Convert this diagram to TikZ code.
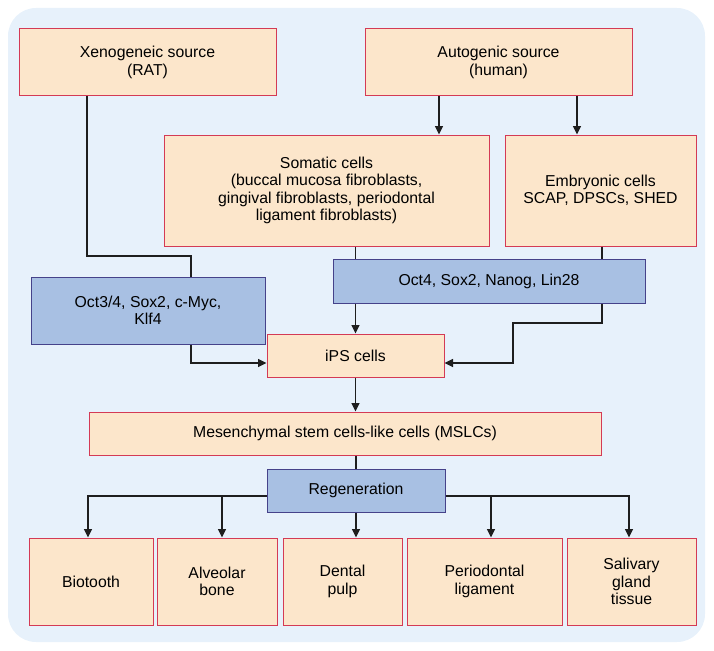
\documentclass[tikz,border=0pt]{standalone}
\usepackage{fontspec}
\setmainfont{Liberation Sans}
\usetikzlibrary{arrows.meta}
\definecolor{peach}{HTML}{FCE6CB}
\definecolor{crimson}{HTML}{D43A55}
\definecolor{steel}{HTML}{A8C0E3}
\definecolor{navy}{HTML}{45428A}
\definecolor{bgblue}{HTML}{E7F1FB}
\definecolor{ink}{HTML}{1E1E1E}
\tikzstyle{cellbox}=[rectangle, draw=crimson, fill=peach, line width=1pt,
align=center, inner sep=0pt, font=\fontsize{15.8}{17.5}\selectfont]
\tikzstyle{factorbox}=[rectangle, draw=navy, fill=steel, line width=1pt,
align=center, inner sep=0pt, font=\fontsize{15.8}{17.5}\selectfont]
\tikzstyle{link}=[draw=ink, line width=1.1pt, >={Triangle[length=8.5pt,width=8pt]}]

\begin{document}
\begin{tikzpicture}[x=1pt,y=-1pt]
\useasboundingbox (0,0) rectangle (714,650);
\fill[bgblue, rounded corners=28pt] (8,8) rectangle (705,642);

\node[cellbox, minimum width=257pt, minimum height=67pt](xeno)at (147.5,62.5){Xenogeneic source\\(RAT)};
\node[cellbox, minimum width=267pt, minimum height=67pt](autog)at (498.5,62.5){Autogenic source\\(human)};

\node[cellbox, minimum width=325pt, minimum height=111pt](somatic)at (326.5,190.5){Somatic cells\\(buccal mucosa fibroblasts,\\gingival fibroblasts, periodontal\\ligament fibroblasts)};
\node[cellbox, minimum width=191pt, minimum height=111pt](embryo)at (600.5,190.5){Embryonic cells\\SCAP, DPSCs, SHED};

\node[factorbox, minimum width=234pt, minimum height=67pt](octklf)at (148,310.5){Oct3/4, Sox2, c-Myc,\\Klf4};
\node[factorbox, minimum width=312pt, minimum height=44pt](octlin)at (489,281){Oct4, Sox2, Nanog, Lin28};

\node[cellbox, minimum width=177pt, minimum height=43pt](ips)at (355.5,355.5){iPS cells};
\node[cellbox, minimum width=512pt, minimum height=43pt](mslc)at (345,433.5){Mesenchymal stem cells-like cells (MSLCs)};
\node[factorbox, minimum width=178pt, minimum height=43pt](regen)at (356,490.5){Regeneration};

\node[cellbox, minimum width=124pt, minimum height=87pt](biotooth)at (91,581.5){Biotooth};
\node[cellbox, minimum width=120pt, minimum height=87pt](alveolar)at (217,581.5){Alveolar\\bone};
\node[cellbox, minimum width=119pt, minimum height=87pt](pulp)at (342.5,581.5){Dental\\pulp};
\node[cellbox, minimum width=155pt, minimum height=87pt](perio)at (484.5,581.5){Periodontal\\ligament};
\node[cellbox, minimum width=129pt, minimum height=87pt](saliv)at (631.5,581.5){Salivary\\gland\\tissue};

% bend points
\coordinate (k1) at (87,256);
\coordinate (k2) at (191,256);
\coordinate (s1) at (439,0);
\coordinate (s2) at (577,0);
\coordinate (l1) at (191,363);
\coordinate (r1) at (602,323);
\coordinate (r2) at (513,323);
\coordinate (r3) at (513,363);
\coordinate (b1) at (88,496);
\coordinate (b2) at (222,496);
\coordinate (b4) at (491,496);
\coordinate (b5) at (629,496);

\draw [link](xeno.south -| k1) -- (k1) -- (k2) -- (k2 |- octklf.north);
\draw [link,->](autog.south -| s1) -- (somatic.north -| s1);
\draw [link,->](autog.south -| s2) -- (embryo.north -| s2);

\draw [link](somatic.south -| ips.north) -- (octlin.north -| ips.north);
\draw [link](embryo.south -| r1) -- (octlin.north -| r1);

\draw [link,->](octlin.south -| ips.north) -- (ips.north);
\draw [link,->](octlin.south -| r1) -- (r1) -- (r2) -- (r3) -- (r3 -| ips.east);
\draw [link,->](octklf.south -| l1) -- (l1) -- (l1 -| ips.west);

\draw [link,->](ips.south) -- (mslc.north -| ips.south);
\draw [link](mslc.south -| regen.north) -- (regen.north);

\draw [link,->](regen.west |- b1) -- (b1) -- (b1 |- biotooth.north);
\draw [link,->](b2) -- (b2 |- alveolar.north);
\draw [link,->](regen.south) -- (regen.south |- pulp.north);
\draw [link,->](b4) -- (b4 |- perio.north);
\draw [link,->](regen.east |- b5) -- (b5) -- (b5 |- saliv.north);
\end{tikzpicture}
\end{document}
